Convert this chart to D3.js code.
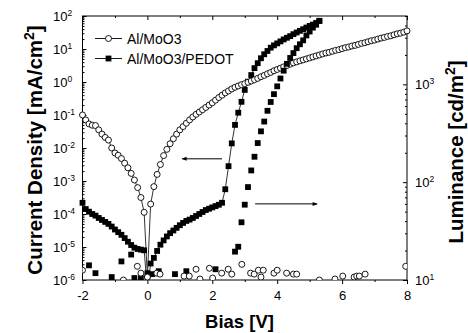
<!DOCTYPE html>
<html><head><meta charset="utf-8">
<script src="https://cdn.jsdelivr.net/npm/d3@7"></script>
<style>body{margin:0;background:#fff}svg{display:block;font-family:"Liberation Sans",Arial,sans-serif}</style>
</head><body><svg id="c" width="468" height="333"></svg>
<script>
// ---------- data ----------
const xTicks=[-2,0,2,4,6,8];
const xMinor=[-1,1,3,5,7];
const yJExp=[-6,-5,-4,-3,-2,-1,0,1,2];
const yLExp=[1,2,3];
const legendNames=["Al/MoO3","Al/MoO3/PEDOT"];

// Al/MoO3 current density (log10 mA/cm2)
const circV=[-2.0,-1.9,-1.8,-1.7,-1.6,-1.5,-1.4,-1.3,-1.2,-1.1,-1.0,-0.9,-0.8,-0.7,-0.6,-0.5,-0.4,-0.3,-0.2,-0.1,0.0,
0.1,0.2,0.3,0.4,0.5,0.6,0.7,0.8,0.9,1.0,1.1,1.2,1.3,1.4,1.5,1.6,1.7,1.8,1.9,2.0,2.1,2.2,2.3,2.4,2.5,2.6,2.7,2.8,2.9,3.0,
3.1,3.2,3.3,3.4,3.5,3.6,3.7,3.8,3.9,4.0,4.1,4.2,4.3,4.4,4.5,4.6,4.7,4.8,4.9,5.0,5.1,5.2,5.3,5.4,5.5,5.6,5.7,5.8,5.9,6.0,
6.1,6.2,6.3,6.4,6.5,6.6,6.7,6.8,6.9,7.0,7.1,7.2,7.3,7.4,7.5,7.6,7.7,7.8,7.9,8.0];
const circJlog=[-1.00,-1.15,-1.27,-1.31,-1.32,-1.45,-1.58,-1.68,-1.76,-2.00,-2.15,-2.22,-2.32,-2.46,-2.60,-2.77,-2.97,-3.20,-3.50,-3.95,-5.90,
-3.70,-3.17,-2.80,-2.50,-2.23,-2.04,-1.87,-1.72,-1.58,-1.45,-1.35,-1.25,-1.15,-1.06,-0.98,-0.91,-0.84,-0.77,-0.70,-0.63,-0.55,-0.47,-0.40,-0.33,-0.27,-0.21,-0.16,-0.12,-0.08,-0.05,
-0.01,0.03,0.07,0.11,0.16,0.20,0.25,0.29,0.34,0.38,0.42,0.46,0.50,0.54,0.58,0.61,0.64,0.67,0.70,0.73,0.76,0.79,0.82,0.85,0.88,0.90,0.93,0.96,0.98,1.01,
1.04,1.06,1.09,1.11,1.14,1.17,1.19,1.22,1.25,1.27,1.30,1.33,1.35,1.38,1.40,1.43,1.46,1.48,1.51,1.55];

// Al/MoO3/PEDOT current density (log10 mA/cm2)
const sqV=[-2.0,-1.9,-1.8,-1.7,-1.6,-1.5,-1.4,-1.3,-1.2,-1.1,-1.0,-0.9,-0.8,-0.7,-0.6,-0.5,-0.4,-0.3,-0.2,-0.1,0.0,
0.1,0.2,0.3,0.4,0.5,0.6,0.7,0.8,0.9,1.0,1.1,1.2,1.3,1.4,1.5,1.6,1.7,1.8,1.9,2.0,2.1,2.2,2.3,2.4,2.5,2.6,2.7,2.8,2.9,3.0,
3.1,3.2,3.3,3.4,3.5,3.6,3.7,3.8,3.9,4.0,4.1,4.2,4.3,4.4,4.5,4.6,4.7,4.8,4.9,5.0,5.1,5.2,5.3];
const sqJlog=[-3.66,-3.85,-3.93,-4.00,-4.05,-4.12,-4.18,-4.24,-4.30,-4.38,-4.47,-4.55,-4.63,-4.73,-4.84,-4.94,-5.02,-5.06,-5.08,-5.10,-6.30,
-5.50,-5.33,-5.12,-4.93,-4.80,-4.68,-4.58,-4.50,-4.42,-4.34,-4.27,-4.21,-4.17,-4.12,-4.06,-4.00,-3.94,-3.88,-3.84,-3.80,-3.76,-3.72,-3.66,-3.25,-2.55,-1.86,-1.30,-0.93,-0.60,-0.24,
0.01,0.21,0.42,0.57,0.72,0.84,0.94,1.04,1.11,1.17,1.23,1.29,1.34,1.39,1.45,1.50,1.55,1.60,1.65,1.70,1.74,1.79,1.85];

// Al/MoO3/PEDOT luminance (log10 cd/m2)
const sqLumV=[-1.8,-1.6,-1.1,-0.8,-0.5,-0.4,-0.2,0.0,0.15,0.35,0.85,1.2,2.1,
2.7,2.8,2.9,3.0,3.1,3.2,3.3,3.4,3.5,3.6,3.7,3.8,3.9,4.0,4.1,4.2,4.3,4.4,4.5,4.6,4.7,4.8,4.9,5.0,5.1,5.2,5.3];
const sqLumLog=[1.15,1.07,1.03,1.19,1.26,1.02,1.02,1.07,1.06,1.09,1.06,1.09,1.11,
1.29,1.34,1.59,1.77,1.95,2.12,2.26,2.40,2.52,2.62,2.73,2.82,2.90,2.98,3.06,3.14,3.21,3.27,3.32,3.37,3.41,3.45,3.50,3.54,3.58,3.61,3.65];

// Al/MoO3 luminance (log10 cd/m2), noise level
const circLumV=[-2.0,-0.74,-0.31,-0.2,0.0,0.29,0.39,1.13,1.29,1.5,1.62,1.91,2.01,2.29,2.49,2.6,2.91,3.18,3.29,3.42,3.5,3.57,3.9,4.0,4.29,4.5,4.6,5.3,5.78,6.02,6.37,6.45,6.53,6.71,7.96];
const circLumLog=[1.10,1.00,1.14,1.07,1.03,1.07,1.06,1.04,1.04,1.11,1.01,1.12,1.02,1.07,1.11,1.06,1.16,1.07,1.06,1.10,1.03,1.10,1.07,1.10,1.07,1.06,1.06,1.00,1.01,1.04,1.03,1.04,1.04,1.06,1.14];

// annotation arrows (data coordinates)
const arrowLeftV=[2.3,1.07], arrowLeftJ=4.7e-3;
const arrowRightV=[3.32,5.23], arrowRightL=60;

// ---------- drawing ----------
const svg=d3.select("#c");
const m={l:82.5,r:407,t:16,b:280};
const x=d3.scaleLinear().domain([-2,8]).range([m.l,m.r]);
const yJ=d3.scaleLog().domain([1e-6,1e2]).range([m.b,m.t]);
const yL=d3.scaleLog().domain([10,5000]).range([m.b,m.t]);

const defs=svg.append("defs");
defs.append("clipPath").attr("id","clipY").append("rect").attr("x",0).attr("y",m.t).attr("width",468).attr("height",m.b-m.t);
defs.append("clipPath").attr("id","clipP").append("rect").attr("x",m.l).attr("y",m.t).attr("width",m.r-m.l).attr("height",m.b-m.t);
defs.append("marker").attr("id","ah").attr("viewBox","0 0 10 10").attr("refX",9).attr("refY",5)
  .attr("markerWidth",7).attr("markerHeight",5).attr("markerUnits","userSpaceOnUse").attr("orient","auto")
  .append("path").attr("d","M0,1 L10,5 L0,9 Z").attr("fill","#000");

// axes
const noLab=()=>"";
const minorsJ=[]; yJExp.slice(0,-1).forEach(e=>{for(let k=2;k<10;k++)minorsJ.push(k*Math.pow(10,e));});
const minorsL=[]; [1,2,3].forEach(e=>{for(let k=2;k<10;k++){const v=k*Math.pow(10,e); if(v<=5000)minorsL.push(v);}});

function ax(gen,tr){const g=svg.append("g").attr("transform",tr).call(gen);g.select(".domain").remove();g.selectAll("line").attr("stroke","#000");return g;}
const gx=ax(d3.axisBottom(x).tickValues(xTicks).tickSize(4).tickFormat(d=>String(d)),`translate(0,${m.b})`);
gx.selectAll("text").attr("font-size",13).attr("font-family","Liberation Sans, Arial").attr("dy",null).attr("y",20).attr("fill","#000");
ax(d3.axisBottom(x).tickValues(xMinor).tickSize(2).tickFormat(noLab),`translate(0,${m.b})`);
ax(d3.axisTop(x).tickValues(xTicks).tickSize(-4).tickFormat(noLab),`translate(0,${m.t})`);
ax(d3.axisTop(x).tickValues(xMinor).tickSize(-2).tickFormat(noLab),`translate(0,${m.t})`);
ax(d3.axisLeft(yJ).tickValues(yJExp.map(e=>Math.pow(10,e))).tickSize(-4).tickFormat(noLab),`translate(${m.l},0)`);
ax(d3.axisLeft(yJ).tickValues(minorsJ).tickSize(-2).tickFormat(noLab),`translate(${m.l},0)`);
ax(d3.axisRight(yL).tickValues(yLExp.map(e=>Math.pow(10,e))).tickSize(-4).tickFormat(noLab),`translate(${m.r},0)`);
ax(d3.axisRight(yL).tickValues(minorsL).tickSize(-2).tickFormat(noLab),`translate(${m.r},0)`);

svg.append("rect").attr("x",m.l).attr("y",m.t).attr("width",m.r-m.l).attr("height",m.b-m.t)
  .attr("fill","none").attr("stroke","#000").attr("stroke-width",1);

// tick labels (powers of ten)
function pow10(g,xp,yp,e){
  const t=g.append("text").attr("x",xp).attr("y",yp).attr("font-size",13).attr("fill","#000");
  t.append("tspan").text("10");
  t.append("tspan").attr("dy",-5).attr("font-size",8.5).text(String(e));
}
const gl=svg.append("g");
yJExp.forEach(e=>pow10(gl,53,yJ(Math.pow(10,e))+4.5,e));
yLExp.forEach(e=>pow10(gl,415,yL(Math.pow(10,e))+5,e));

// axis titles
const tl=svg.append("text").attr("transform","translate(41.5,150) rotate(-90)").attr("text-anchor","middle")
  .attr("font-weight","bold").attr("font-size",20.5).attr("fill","#000");
tl.append("tspan").text("Current Density [mA/cm");
tl.append("tspan").attr("dy",-8).attr("font-size",14).text("2");
tl.append("tspan").attr("dy",8).text("]");
const tr=svg.append("text").attr("transform","translate(463,152) rotate(-90)").attr("text-anchor","middle")
  .attr("font-weight","bold").attr("font-size",20.5).attr("fill","#000");
tr.append("tspan").text("Luminance [cd/m");
tr.append("tspan").attr("dy",-8).attr("font-size",14).text("2");
tr.append("tspan").attr("dy",8).text("]");
svg.append("text").attr("x",239.5).attr("y",328).attr("text-anchor","middle").attr("font-weight","bold")
  .attr("font-size",18.5).attr("fill","#000").text("Bias [V]");

// series
const cJ=circV.map((v,i)=>({v,y:Math.pow(10,circJlog[i])}));
const sJ=sqV.map((v,i)=>({v,y:Math.pow(10,sqJlog[i])}));
const sL=sqLumV.map((v,i)=>({v,y:Math.pow(10,sqLumLog[i])}));
const cL=circLumV.map((v,i)=>({v,y:Math.pow(10,circLumLog[i])}));
const lineJ=d3.line().x(d=>x(d.v)).y(d=>yJ(d.y));

const gd=svg.append("g").attr("clip-path","url(#clipY)");
gd.append("path").datum(sJ).attr("d",lineJ).attr("fill","none").attr("stroke","#000").attr("stroke-width",0.8);
gd.append("path").datum(cJ).attr("d",lineJ).attr("fill","none").attr("stroke","#000").attr("stroke-width",0.8);
const gp=svg.append("g").attr("clip-path","url(#clipP)");
const S=5.8, R=3.0;
gp.selectAll("rect.sl").data(sL).join("rect").attr("x",d=>x(d.v)-S/2).attr("y",d=>yL(d.y)-S/2).attr("width",S).attr("height",S).attr("fill","#000");
gp.selectAll("circle.cl").data(cL).join("circle").attr("cx",d=>x(d.v)).attr("cy",d=>yL(d.y)).attr("r",R).attr("fill","#fff").attr("stroke","#000").attr("stroke-width",0.9);
gd.selectAll("rect.sj").data(sJ).join("rect").attr("x",d=>x(d.v)-S/2).attr("y",d=>yJ(d.y)-S/2).attr("width",S).attr("height",S).attr("fill","#000");
gd.selectAll("circle.cj").data(cJ).join("circle").attr("cx",d=>x(d.v)).attr("cy",d=>yJ(d.y)).attr("r",R).attr("fill","#fff").attr("stroke","#000").attr("stroke-width",0.9);

// arrows
svg.append("line").attr("x1",x(arrowLeftV[0])).attr("x2",x(arrowLeftV[1])).attr("y1",yJ(arrowLeftJ)).attr("y2",yJ(arrowLeftJ))
  .attr("stroke","#000").attr("stroke-width",1).attr("marker-end","url(#ah)");
svg.append("line").attr("x1",x(arrowRightV[0])).attr("x2",x(arrowRightV[1])).attr("y1",yL(arrowRightL)).attr("y2",yL(arrowRightL))
  .attr("stroke","#000").attr("stroke-width",1).attr("marker-end","url(#ah)");

// legend
const lg=svg.append("g");
legendNames.forEach((n,i)=>{
  const yy=38.5+i*20;
  lg.append("line").attr("x1",95).attr("x2",122).attr("y1",yy).attr("y2",yy).attr("stroke","#000").attr("stroke-width",0.9);
  if(i===0) lg.append("circle").attr("cx",108.5).attr("cy",yy).attr("r",R).attr("fill","#fff").attr("stroke","#000").attr("stroke-width",0.9);
  else lg.append("rect").attr("x",108.5-S/2).attr("y",yy-S/2).attr("width",S).attr("height",S).attr("fill","#000");
  lg.append("text").attr("x",127).attr("y",yy+5).attr("font-size",14).attr("fill","#000").text(n);
});
</script></body></html>
